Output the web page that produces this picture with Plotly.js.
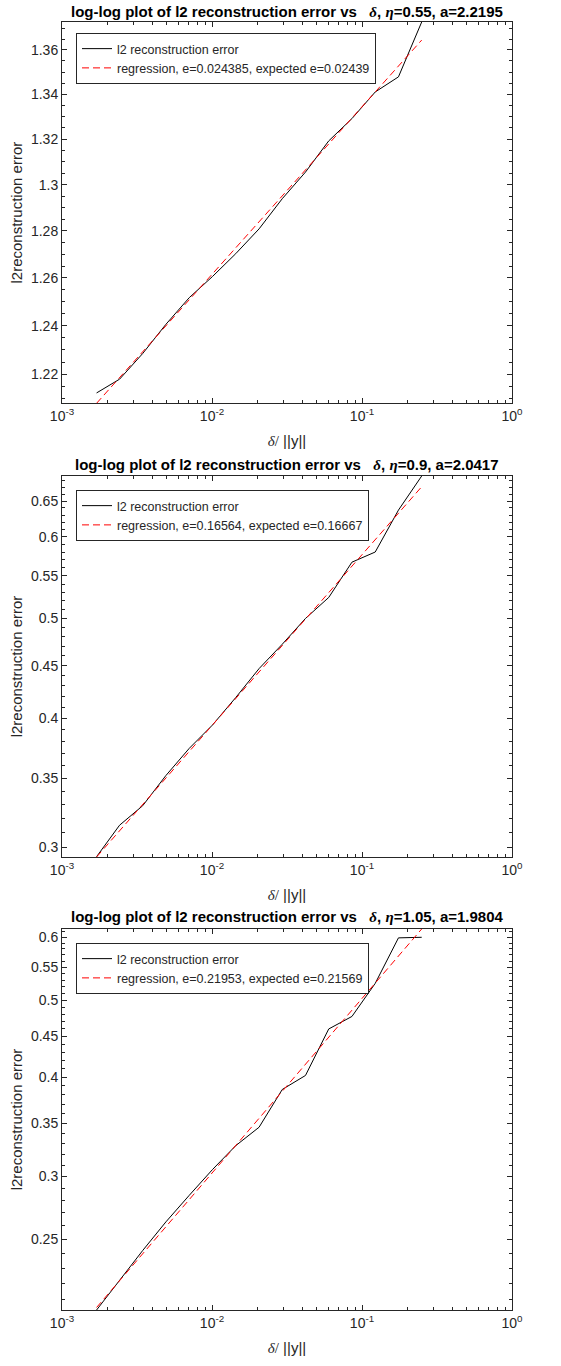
<!DOCTYPE html>
<html>
<head>
<meta charset="utf-8">
<script src="https://cdn.plot.ly/plotly-3.0.1.min.js"></script>
<style>html,body{margin:0;padding:0;background:#fff;}#chart{width:561px;height:1366px;}</style>
</head>
<body>
<div id="chart"></div>
<script>
// ---- data ----
const deltaRel = [0.250, 0.175, 0.1225, 0.0857, 0.0600, 0.0420, 0.0294, 0.0206, 0.0144, 0.01007, 0.00705, 0.00493, 0.00345, 0.00242, 0.00170];
const err1 = [1.3728, 1.3478, 1.3410, 1.3291, 1.3192, 1.3055, 1.2939, 1.2809, 1.2703, 1.2606, 1.2517, 1.2406, 1.2285, 1.2180, 1.2124];
const err2 = [0.6874, 0.637, 0.580, 0.567, 0.524, 0.500, 0.472, 0.447, 0.419, 0.394, 0.374, 0.352, 0.329, 0.315, 0.2936];
const err3 = [0.600, 0.599, 0.525, 0.477, 0.460, 0.402, 0.386, 0.346, 0.328, 0.306, 0.284, 0.263, 0.242, 0.222, 0.2037];
const regX = [0.00170, 0.250];
const reg1 = [1.2082, 1.3645];
const reg2 = [0.2934, 0.6711];
const reg3 = [0.2052, 0.6146];
const etaVals = ['0.55', '0.9', '1.05'];
const aVals = ['2.2195', '2.0417', '1.9804'];
const eReg = ['0.024385', '0.16564', '0.21953'];
const eExp = ['0.02439', '0.16667', '0.21569'];
const xTickVals = [0.001, 0.01, 0.1, 1];
const xTickText = ['10<sup>-3</sup>', '10<sup>-2</sup>', '10<sup>-1</sup>', '10<sup>0</sup>'];
const yTicks1 = [1.22, 1.24, 1.26, 1.28, 1.3, 1.32, 1.34, 1.36];
const yTicks2 = [0.3, 0.35, 0.4, 0.45, 0.5, 0.55, 0.6, 0.65];
const yTicks3 = [0.25, 0.3, 0.35, 0.4, 0.45, 0.5, 0.55, 0.6];

// ---- layout helpers ----
const W = 561, H = 1366;
const SANS = 'Liberation Sans, Arial, Helvetica, sans-serif';
const SERIF = 'Liberation Serif, Times New Roman, serif';
const AX = '#262626';
const panels = [
  {top: 22, bottom: 403.3, err: err1, reg: reg1, yt: yTicks1, minorStep: 0.005},
  {top: 476, bottom: 857, err: err2, reg: reg2, yt: yTicks2, minorStep: 0.01},
  {top: 929, bottom: 1310, err: err3, reg: reg3, yt: yTicks3, minorStep: 0.01}
];
const titleY = [12, 464, 916];
const legendTop = [33, 490, 943];

const xMinor = [];
[0.001, 0.01, 0.1].forEach(d => { for (let m = 2; m <= 9; m++) xMinor.push(+(d * m).toPrecision(3)); });

const traces = [];
const layout = {
  width: W, height: H,
  margin: {l: 62, r: 49, t: 0, b: 0},
  paper_bgcolor: '#fff', plot_bgcolor: '#fff',
  font: {family: SANS, color: AX, size: 14},
  showlegend: true,
  annotations: []
};

panels.forEach((p, i) => {
  const n = i === 0 ? '' : String(i + 1);
  const xa = 'xaxis' + n, ya = 'yaxis' + n;
  const lg = 'legend' + n;
  traces.push({
    x: deltaRel, y: p.err, xaxis: 'x' + n, yaxis: 'y' + n, legend: lg,
    type: 'scatter', mode: 'lines', name: 'l2 reconstruction error',
    line: {color: '#000', width: 1}
  });
  traces.push({
    x: regX, y: p.reg, xaxis: 'x' + n, yaxis: 'y' + n, legend: lg,
    type: 'scatter', mode: 'lines',
    name: 'regression, e=' + eReg[i] + ', expected e=' + eExp[i],
    line: {color: '#ff0000', width: 1, dash: '7px,4px'}
  });
  const all = p.err.concat(p.reg);
  const ymin = Math.min(...all), ymax = Math.max(...all);
  const yMinor = [];
  for (let v = Math.ceil(ymin / p.minorStep) * p.minorStep; v <= ymax + 1e-9; v += p.minorStep) yMinor.push(+v.toFixed(4));
  const dom = [1 - p.bottom / H, 1 - p.top / H];
  layout[xa] = {
    type: 'log', range: [-3, 0], domain: [0, 1], anchor: 'y' + n,
    tickmode: 'array', tickvals: xTickVals, ticktext: xTickText,
    ticks: 'inside', ticklen: 5, tickwidth: 1, tickcolor: AX,
    minor: {tickmode: 'array', tickvals: xMinor, ticks: 'inside', ticklen: 3, tickwidth: 1, tickcolor: AX, showgrid: false},
    showline: true, linecolor: AX, linewidth: 1, mirror: 'allticks',
    showgrid: false, zeroline: false,
    tickfont: {family: SANS, size: 14, color: AX},
    title: {text: '<span style="font-family:' + SERIF + '"><i>δ</i>/</span> ||y||', font: {family: SANS, size: 15, color: AX}, standoff: 12}
  };
  layout[ya] = {
    type: 'log', range: [Math.log10(ymin), Math.log10(ymax)], domain: dom, anchor: 'x' + n,
    tickmode: 'array', tickvals: p.yt, ticktext: p.yt.map(v => String(v)),
    ticks: 'inside', ticklen: 5, tickwidth: 1, tickcolor: AX,
    minor: {tickmode: 'array', tickvals: yMinor, ticks: 'inside', ticklen: 3, tickwidth: 1, tickcolor: AX, showgrid: false},
    showline: true, linecolor: AX, linewidth: 1, mirror: 'allticks',
    showgrid: false, zeroline: false,
    tickfont: {family: SANS, size: 14, color: AX},
    title: {text: 'l2reconstruction error', font: {family: SANS, size: 15, color: AX}, standoff: 4}
  };
  layout[lg] = {
    x: 14 / 450, y: 1 - legendTop[i] / H, xanchor: 'left', yanchor: 'top',
    xref: 'paper', yref: 'paper',
    bgcolor: '#fff', bordercolor: AX, borderwidth: 1,
    font: {family: SANS, size: 12.5, color: AX},
    itemwidth: 30, tracegroupgap: 0, traceorder: 'normal'
  };
  layout.annotations.push({
    xref: 'paper', yref: 'paper', x: 0.5, y: 1 - titleY[i] / H,
    xanchor: 'center', yanchor: 'middle', showarrow: false,
    text: '<b>log-log plot of l2 reconstruction error vs   <span style="font-family:' + SERIF + '"><i>δ</i></span>, <span style="font-family:' + SERIF + '"><i>η</i></span>=' + etaVals[i] + ', a=' + aVals[i] + '</b>',
    font: {family: SANS, size: 15, color: '#000'}
  });
});

Plotly.newPlot('chart', traces, layout, {displayModeBar: false, staticPlot: true});
</script>
</body>
</html>
